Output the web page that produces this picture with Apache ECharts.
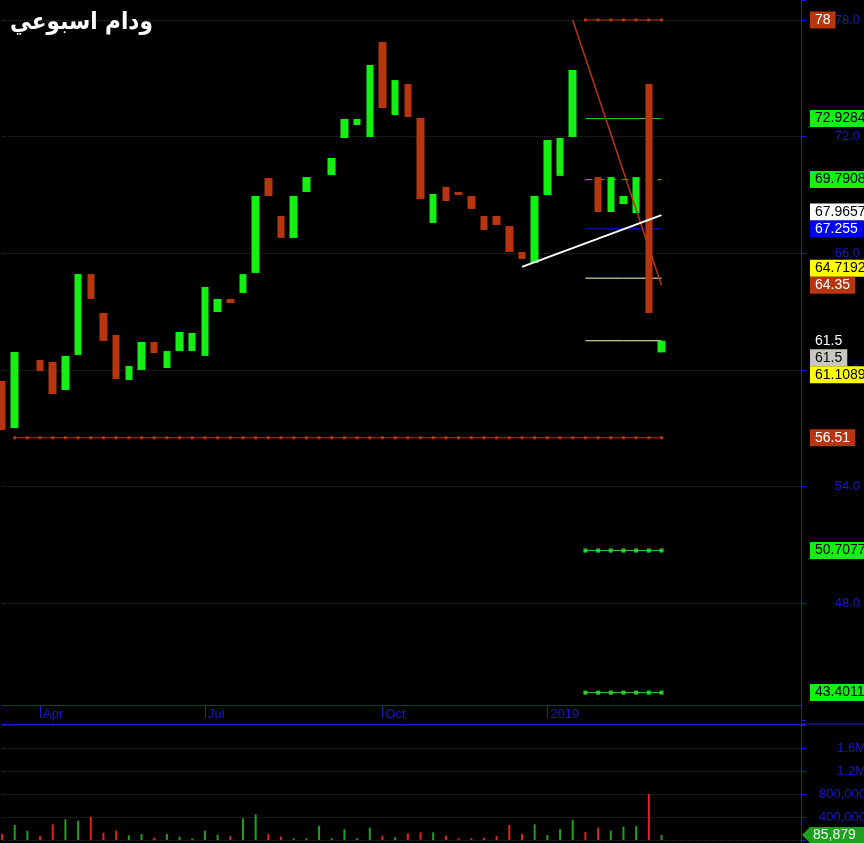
<!DOCTYPE html>
<html><head><meta charset="utf-8">
<script src="https://cdn.jsdelivr.net/npm/echarts@6/dist/echarts.min.js"></script>
<style>html,body{margin:0;padding:0;background:#000}#c{width:864px;height:843px}</style>
</head><body><div id="c"></div>
<script>
// ---------------- data ----------------
const chartTitle = 'ودام اسبوعي';
const firstWeek = '2018-03-11';
const weekCount = 64;
const tickIndex = [3, 16, 30, 43];
const tickLabels = ['Apr', 'Jul', 'Oct', '2019'];
const priceTicks = [48, 54, 60, 66, 72, 78];
const volumeTicks = [400000, 800000, 1200000, 1600000];

const openP = [59.43, 57.01, null, 60.51, 60.41, 58.97, 60.77, 64.93, 62.93, 61.80,
  59.48, 60.00, 61.44, 60.10, 60.97, 60.97, 60.72, 62.98, 63.65, 63.96,
  64.99, 69.87, 67.92, 66.79, 69.15, null, 70.03, 71.93, 72.60, 71.98,
  76.87, 73.11, 74.71, 72.96, 67.56, 69.41, 69.15, 68.95, 67.92, 67.92,
  67.40, 66.07, 65.50, 69.00, 69.98, 71.98, null, 69.92, 68.12, 68.53,
  68.07, 74.71, 60.90];
const closeP = [56.91, 60.92, null, 59.94, 58.76, 60.72, 64.93, 63.65, 61.49, 59.53,
  60.20, 61.44, 60.87, 60.97, 61.95, 61.90, 64.27, 63.65, 63.44, 64.93,
  68.95, 68.95, 66.79, 68.95, 69.92, null, 70.90, 72.91, 72.91, 75.69,
  73.47, 74.91, 73.01, 68.79, 69.05, 68.69, 69.00, 68.28, 67.20, 67.45,
  66.07, 65.71, 68.95, 71.83, 71.93, 75.43, null, 68.12, 69.92, 68.95,
  69.92, 62.93, 61.50];
const volume = [104000, 261000, 162000, 70000, 273000, 360000, 336000, 405000, 127000, 162000,
  82000, 104000, 40000, 104000, 58000, 25000, 162000, 92000, 70000, 377000,
  447000, 104000, 58000, 30000, 30000, 249000, 30000, 186000, 30000, 214000,
  75000, 47000, 116000, 134000, 134000, 75000, 30000, 30000, 40000, 70000,
  261000, 104000, 273000, 87000, 191000, 348000, 139000, 214000, 162000, 232000,
  243000, 800000, 85879];
const volumeUp = [0, 1, 1, 0, 0, 1, 1, 0, 0, 0,
  1, 1, 0, 1, 1, 1, 1, 1, 0, 1,
  1, 0, 0, 1, 1, 1, 1, 1, 1, 1,
  0, 1, 0, 0, 1, 0, 0, 0, 0, 0,
  0, 0, 1, 1, 1, 1, 0, 0, 1, 1,
  1, 0, 1];

const resistanceTop = 78;
const targetGreen1 = 72.9284;
const targetGreen2 = 69.7908;
const blueLevel = 67.255;
const yellowLevel = 64.7192;
const lastClose = 61.5;
const supportRed = 56.51;
const targetGreen3 = 50.7077;
const targetGreen4 = 43.4011;
const levelRange = [46, 52];
const supportRange = [1, 52];
const trendUp = [[41, 65.3], [52, 67.9657]];
const trendDown = [[45, 78], [52, 64.35]];

const priceTagValues = [78, 72.9284, 69.7908, 67.9657, 67.255, 64.7192, 64.35, 61.5, 61.5, 61.1089, 56.51, 50.7077, 43.4011];
const priceTagTexts = ['78', '72.9284', '69.7908', '67.9657', '67.255', '64.7192', '64.35', '61.5', '61.5', '61.1089', '56.51', '50.7077', '43.4011'];
const volumeTagValue = 85879;
const volumeTagText = '85,879';

// ---------------- styles / layout ----------------
const BLUE = '#1c1cd8', LBLUE = '#1a1ac8';
const GREEN = '#14f014', RED = '#b8360f';
const VGREEN = '#1fa01f', VRED = '#e42020';
const tagLook = ['red', 'green', 'green', 'white', 'blue', 'yellow', 'red', 'plain', 'gray', 'yellow', 'red', 'green', 'green'];
const tagBg = { red: RED, green: GREEN, white: '#ffffff', blue: '#0000ff', yellow: '#ffff00', gray: '#c8c8c0', plain: null };
const tagFg = { red: '#ffffff', green: '#000000', white: '#000000', blue: '#ffffff', yellow: '#000000', gray: '#000000', plain: '#ffffff' };
const anchorTag = 7;
const PX = 19.44;              // pixels per price unit
const priceMin = 42;
const priceMax = 78 + 20 / PX;
const priceH = (priceMax - priceMin) * PX;
const gridLeft = 2, gridW = 799;
const dateTop = 705, dateH = 19;
const volTop = 724, volH = 116;
const volMax = volH / 23 * 400000;
const W = 864, H = 843;

const cats = [];
{
  const d0 = new Date(firstWeek + 'T00:00:00Z');
  for (let i = 0; i < weekCount; i++) {
    const d = new Date(d0.getTime() + i * 7 * 86400000);
    cats.push(d.toISOString().slice(0, 10));
  }
}

const candleData = openP.map((o, i) => o == null ? ['-', '-', '-', '-'] :
  [o, closeP[i], Math.min(o, closeP[i]), Math.max(o, closeP[i])]);
const volData = volume.map((v, i) => ({ value: v, itemStyle: { color: volumeUp[i] ? VGREEN : VRED } }));

function levelData(v, range) {
  return cats.map((c, i) => (i >= range[0] && i <= range[1]) ? v : '-');
}
function levelSeries(v, range, color, extra) {
  return Object.assign({
    type: 'line', xAxisIndex: 0, yAxisIndex: 0, data: levelData(v, range),
    symbol: 'none', showAllSymbol: true, silent: true, animation: false, z: 1,
    lineStyle: { color: color, width: 1 }, itemStyle: { color: color }
  }, extra || {});
}

function tagLayout(api) {
  const ys = priceTagValues.map(v => api.coord([0, v])[1]);
  const out = ys.slice();
  const h = 17;
  let prev = ys[anchorTag];
  for (let k = anchorTag - 1; k >= 0; k--) { out[k] = Math.min(ys[k], prev - h); prev = out[k]; }
  prev = ys[anchorTag];
  for (let k = anchorTag + 1; k < ys.length; k++) { out[k] = Math.max(ys[k], prev + h); prev = out[k]; }
  return out;
}

const chart = echarts.init(document.getElementById('c'), null, { renderer: 'canvas' });
const fmtPrice = v => {
  const r = Math.round(v);
  return (Math.abs(v - r) < 1e-6 && priceTicks.indexOf(r) >= 0) ? r.toFixed(1) : '';
};
const fmtVol = v => {
  if (volumeTicks.indexOf(v) < 0) return '';
  return v >= 1000000 ? (v / 1000000).toFixed(1) + 'M' : v.toLocaleString('en-US');
};
const gridCommon = { left: gridLeft, width: gridW, outerBoundsMode: 'none', containLabel: false };

chart.setOption({
  backgroundColor: '#000000',
  animation: false,
  title: {
    text: chartTitle, left: 5, top: 6,
    textStyle: { color: '#ffffff', fontSize: 24, fontWeight: 'bold', fontFamily: '"DejaVu Sans Condensed", "DejaVu Sans"' }
  },
  graphic: [
    { type: 'line', silent: true, shape: { x1: gridLeft + gridW, y1: volTop, x2: W, y2: volTop }, style: { stroke: BLUE, lineWidth: 1 } },
    { type: 'line', silent: true, shape: { x1: gridLeft + gridW + 0.5, y1: volTop + volH, x2: gridLeft + gridW + 0.5, y2: H }, style: { stroke: BLUE, lineWidth: 1 } }
  ],
  grid: [
    Object.assign({ top: 0, height: priceH }, gridCommon),
    Object.assign({ top: dateTop, height: dateH }, gridCommon),
    Object.assign({ top: volTop, height: volH }, gridCommon)
  ],
  xAxis: [
    { gridIndex: 0, type: 'category', data: cats, boundaryGap: false, show: false },
    {
      gridIndex: 1, type: 'category', data: cats, boundaryGap: false, position: 'top',
      axisLine: { show: true, onZero: false, lineStyle: { color: BLUE, width: 1 } },
      axisTick: { show: true, inside: true, length: 13, interval: (i) => tickIndex.indexOf(i) >= 0, lineStyle: { color: BLUE } },
      axisLabel: {
        show: true, inside: true, interval: (i) => tickIndex.indexOf(i) >= 0,
        formatter: (v, i) => { const k = tickIndex.indexOf(i); return k >= 0 ? tickLabels[k] : ''; },
        align: 'left', margin: 3, padding: [0, 0, 0, 3], color: LBLUE, fontSize: 13, fontFamily: 'Liberation Sans'
      },
      splitLine: { show: false }
    },
    {
      gridIndex: 2, type: 'category', data: cats, boundaryGap: false, position: 'top',
      axisLine: { show: true, onZero: false, lineStyle: { color: BLUE, width: 1 } },
      axisTick: { show: false }, axisLabel: { show: false }, splitLine: { show: false }
    }
  ],
  yAxis: [
    {
      gridIndex: 0, type: 'value', position: 'right', min: priceMin, max: priceMax, interval: 6,
      axisLine: { show: true, onZero: false, lineStyle: { color: BLUE } },
      axisTick: { show: true, length: 5, interval: 0, lineStyle: { color: BLUE } },
      axisLabel: { formatter: fmtPrice, align: 'right', margin: 59, color: LBLUE, fontSize: 13, fontFamily: 'Liberation Sans' },
      splitLine: { show: false }
    },
    {
      gridIndex: 1, type: 'value', position: 'right',
      axisLine: { show: true, onZero: false, lineStyle: { color: BLUE } },
      axisTick: { show: false }, axisLabel: { show: false }, splitLine: { show: false }
    },
    {
      gridIndex: 2, type: 'value', position: 'right', min: 0, max: volMax, interval: 400000,
      axisLine: { show: true, onZero: false, lineStyle: { color: BLUE } },
      axisTick: { show: true, length: 5, lineStyle: { color: BLUE } },
      axisLabel: { formatter: fmtVol, align: 'right', margin: 65, color: LBLUE, fontSize: 13, fontFamily: 'Liberation Sans' },
      splitLine: { show: true, lineStyle: { color: '#2e2e2e', type: 'dotted', width: 1 } }
    }
  ],
  series: [
    levelSeries(supportRed, supportRange, RED, {
      symbol: 'rect', symbolSize: 3,
      markLine: {
        silent: true, symbol: 'none', z: 0, label: { show: false }, animation: false,
        lineStyle: { color: '#2e2e2e', type: 'dotted', width: 1 },
        data: priceTicks.map(v => ({ yAxis: v }))
      }
    }),
    levelSeries(resistanceTop, levelRange, RED, { symbol: 'rect', symbolSize: 3 }),
    levelSeries(targetGreen1, levelRange, '#22d022'),
    levelSeries(targetGreen2, levelRange, '#22d022', { lineStyle: { color: '#22d022', width: 1, type: [7, 5] } }),
    levelSeries(blueLevel, levelRange, '#1414ff'),
    levelSeries(yellowLevel, levelRange, '#ffffa8'),
    levelSeries(lastClose, levelRange, '#ffffa8'),
    levelSeries(targetGreen3, levelRange, '#2ad02a', { symbol: 'rect', symbolSize: 4 }),
    levelSeries(targetGreen4, levelRange, '#2ad02a', { symbol: 'rect', symbolSize: 4 }),
    {
      type: 'candlestick', xAxisIndex: 0, yAxisIndex: 0, data: candleData, barWidth: 8, clip: false, z: 2,
      itemStyle: { color: GREEN, color0: RED, borderColor: GREEN, borderColor0: RED, borderWidth: 0 },
      silent: true
    },
    {
      type: 'line', xAxisIndex: 0, yAxisIndex: 0, data: trendDown, symbol: 'none', silent: true, z: 3,
      lineStyle: { color: RED, width: 1.5 }
    },
    {
      type: 'line', xAxisIndex: 0, yAxisIndex: 0, data: trendUp, symbol: 'none', silent: true, z: 3,
      lineStyle: { color: '#ffffff', width: 2 }
    },
    {
      type: 'bar', xAxisIndex: 2, yAxisIndex: 2, data: volData, barWidth: 2, silent: true
    },
    {
      type: 'custom', xAxisIndex: 0, yAxisIndex: 0, silent: true, z: 10, clip: false,
      data: priceTagValues.map(v => [0, v]),
      renderItem: function (params, api) {
        const i = params.dataIndex;
        const ys = tagLayout(api);
        const cs = params.coordSys;
        const look = tagLook[i];
        const style = {
          text: priceTagTexts[i], x: cs.x + cs.width + 9, y: ys[i],
          fill: tagFg[look], font: '14px "Liberation Sans", Arial, sans-serif',
          verticalAlign: 'middle', align: 'left', lineHeight: 15,
          padding: [1, 5, 1, 5]
        };
        if (tagBg[look]) style.backgroundColor = tagBg[look];
        return { type: 'text', style: style };
      }
    },
    {
      type: 'custom', xAxisIndex: 2, yAxisIndex: 2, silent: true, z: 10, clip: false,
      data: [[0, volumeTagValue]],
      renderItem: function (params, api) {
        const y = api.coord([0, volumeTagValue])[1];
        const cs = params.coordSys;
        const x0 = cs.x + cs.width + 1;
        return {
          type: 'group', children: [
            { type: 'polygon', shape: { points: [[x0, y], [x0 + 8, y - 8], [x0 + 70, y - 8], [x0 + 70, y + 8], [x0 + 8, y + 8]] }, style: { fill: '#1f9f1f' } },
            { type: 'text', style: { text: volumeTagText, x: x0 + 11, y: y, fill: '#f0fff0', font: '14px "Liberation Sans", Arial, sans-serif', verticalAlign: 'middle', align: 'left' } }
          ]
        };
      }
    }
  ]
});
</script>
</body></html>
